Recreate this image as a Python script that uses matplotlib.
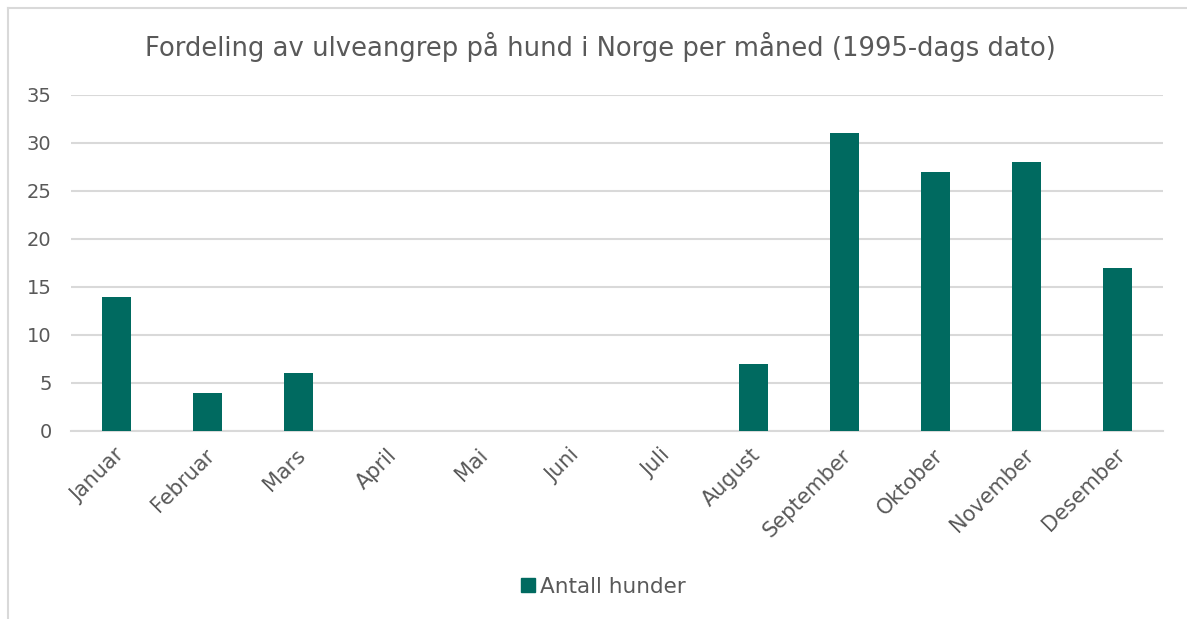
import matplotlib
matplotlib.use("Agg")
import matplotlib.pyplot as plt
from matplotlib.lines import Line2D

months = ["Januar", "Februar", "Mars", "April", "Mai", "Juni", "Juli",
          "August", "September", "Oktober", "November", "Desember"]
values = [14, 4, 6, 0, 0, 0, 0, 7, 31, 27, 28, 17]
series_name = "Antall hunder"
title = "Fordeling av ulveangrep på hund i Norge per måned (1995-dags dato)"

bar_color = "#006A60"
text_color = "#595959"
grid_color = "#D9D9D9"

plt.rcParams['font.family'] = ['DejaVu Sans']

fig = plt.figure(figsize=(11.87, 6.19), dpi=100)
ax = fig.add_axes([71/1187, 1 - 431/619, (1163-71)/1187, (431-95)/619])

x = list(range(len(months)))
ax.bar(x, values, width=0.31, color=bar_color, label=series_name, zorder=3)

ax.set_xlim(-0.5, len(months) - 0.5)
ax.set_ylim(0, 35)
ax.set_yticks(range(0, 36, 5))
ax.yaxis.grid(True, color=grid_color, linewidth=1.5, zorder=0)
ax.set_axisbelow(True)
for s in ["top", "right", "left"]:
    ax.spines[s].set_visible(False)
ax.spines["bottom"].set_color(grid_color)
ax.spines["bottom"].set_linewidth(1.5)
ax.tick_params(axis="both", length=0, colors=text_color)
ax.tick_params(axis="y", pad=14, labelsize=14)
ax.tick_params(axis="x", pad=10, labelsize=15)
ax.set_xticks(x)
ax.set_xticklabels(months, rotation=45, ha="right", rotation_mode="anchor")
for lbl in ax.get_xticklabels():
    lbl.set_transform(lbl.get_transform() + matplotlib.transforms.ScaledTranslation(-3/100, 0, fig.dpi_scale_trans))

fig.text(600/1187, 1 - 47/619, title, ha="center", va="center", fontsize=18.6, color=text_color)

handle = Line2D([], [], marker="s", linestyle="none", markersize=10, color=bar_color)
fig.legend([handle], [series_name], loc="center", bbox_to_anchor=(0.5 + 8/1187, 1 - 587/619),
           frameon=False, fontsize=15.5, labelcolor=text_color, handletextpad=0.1,
           handlelength=1.0)

# outer chart border (cropped at right and bottom)
fig.add_artist(Line2D([7.5/1187, 7.5/1187], [0, 1 - 7.5/619], color=grid_color, linewidth=1.5))
fig.add_artist(Line2D([7.5/1187, 1], [1 - 7.5/619, 1 - 7.5/619], color=grid_color, linewidth=1.5))

fig.savefig("out.png", dpi=100)
